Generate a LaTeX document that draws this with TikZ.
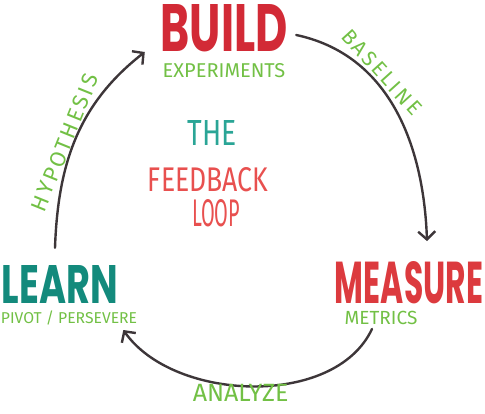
\documentclass[tikz,border=0pt]{standalone}
\usepackage{fontspec}
\usepackage{graphicx}
\setmainfont{Fira Sans}
\newfontfamily\bubblefont{Poppins}
\usetikzlibrary{arrows.meta}

\definecolor{buildred}{HTML}{D22A36}
\definecolor{measurered}{HTML}{DC3A3E}
\definecolor{learnteal}{HTML}{138A7C}
\definecolor{theteal}{HTML}{2AA596}
\definecolor{feedred}{HTML}{E8504F}
\definecolor{leafgreen}{HTML}{72C045}
\definecolor{ink}{HTML}{3D3639}

% box a word to a given width and height (pt)
\newcommand{\boxto}[3]{\resizebox{#1pt}{#2pt}{#3}}
\newcommand{\fs}[1]{\fontsize{#1}{#1}\selectfont}
\newcommand{\spaced}[1]{\addfontfeature{LetterSpace=#1}}

\tikzset{
  big/.style={inner sep=0pt, font=\bubblefont\bfseries},
  note/.style={inner sep=0pt, text=leafgreen},
  centre/.style={inner sep=0pt},
  cyclearrow/.style={draw=ink, line width=2.4pt, line cap=round,
    -{Straight Barb[length=8pt,width=17pt,line width=2.4pt]}}
}

\begin{document}
\begin{tikzpicture}[x=1pt,y=1pt]
    \useasboundingbox (0,0) rectangle (485,413);
    % the three steps
    \node[big,text=buildred](build)at (224,385){\boxto{127}{47}{BUILD}};
    \node[note,font=\fs{20}](experiments)at (224,342){EXPERIMENTS};
    \node[big,text=measurered](measure)at (409,130){\boxto{148}{42}{MEASURE}};
    \node[note,font=\fs{19}](metrics)at (381,95){METRICS};
    \node[big,text=learnteal](learn)at (60,129){\boxto{116}{38}{LEARN}};
    \node[note,font=\fs{15.7}](pivot)at (69,95){PIVOT / PERSEVERE};
    % title in the middle
    \node[centre,text=theteal](the)at (212,280){\boxto{49}{25}{THE}};
    \node[centre,text=feedred](feedback)at (208,233){\boxto{120}{24}{FEEDBACK}};
    \node[centre,text=feedred](loop)at (216,200){\boxto{48}{27}{LOOP}};
    % the loop
    \draw[cyclearrow]([shift={(8.5,-7)}]build.east)to[out=-12,in=92]
        node[note,font=\fs{21}\spaced{12},pos=.3,xshift=17pt,yshift=-2pt,rotate=-48]{BASELINE}
        ([shift={(18,20.5)}]measure.north);
    \draw[cyclearrow]([shift={(-9,-4)}]metrics.south)to[out=-115,in=-55,looseness=.9]
        node[note,font=\fs{25},below=-3pt,pos=.5,xshift=-12pt]{ANALYZE}
        ([shift={(-14,-12)}]pivot.east);
    \draw[cyclearrow]([shift={(-5,17)}]learn.north)to[out=88,in=-142]
        node[note,font=\fs{22}\spaced{12},pos=.47,xshift=-9pt,yshift=1pt,rotate=68]{HYPOTHESIS}
        ([shift={(-15.5,-24)}]build.west);
\end{tikzpicture}
\end{document}
